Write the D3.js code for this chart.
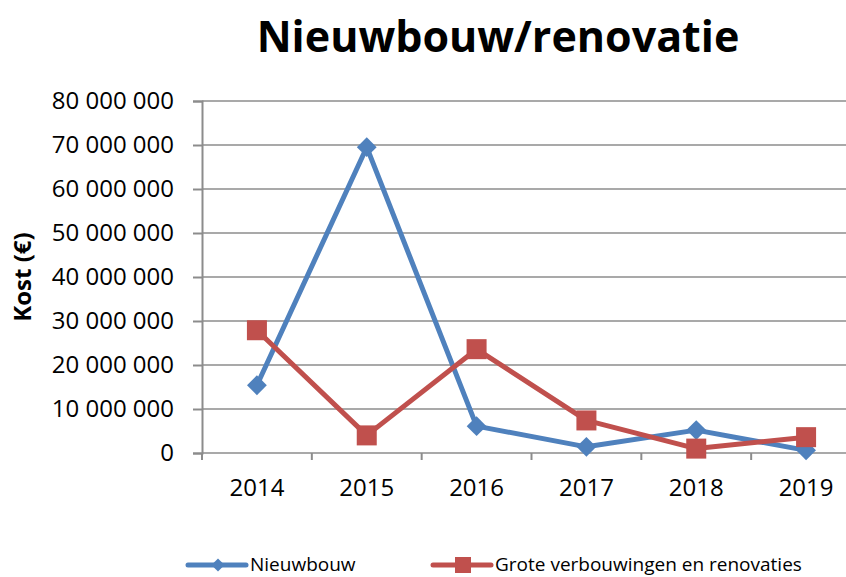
<!DOCTYPE html>
<html>
<head>
<meta charset="utf-8">
<script src="https://cdn.jsdelivr.net/npm/d3@7"></script>
<style>
  body { margin: 0; background: #fff; }
  text { font-family: "Open Sans", "Liberation Sans", sans-serif; }
</style>
</head>
<body>
<div id="chart"></div>
<script>
// Line chart: Nieuwbouw vs grote verbouwingen (kost per jaar)
const years = ["2014", "2015", "2016", "2017", "2018", "2019"];
const nieuwbouw = [15400000, 69500000, 6100000, 1400000, 5200000, 600000];
const renovaties = [27900000, 4000000, 23600000, 7400000, 1000000, 3600000];
const yTicks = [0, 10000000, 20000000, 30000000, 40000000, 50000000, 60000000, 70000000, 80000000];
const seriesNames = ["Nieuwbouw", "Grote verbouwingen en renovaties"];

function createLineChart() {
    const width = 846;
    const height = 577;
    const margin = { top: 101, left: 202, bottom: 124 };
    const plotWidth = 659;   // plot runs slightly past the right edge
    const plotHeight = height - margin.top - margin.bottom;

    const svg = d3.select("#chart")
        .append("svg")
        .attr("width", width)
        .attr("height", height);

    // title
    svg.append("text")
        .attr("x", 498)
        .attr("y", 52)
        .attr("text-anchor", "middle")
        .style("font-weight", "bold")
        .style("font-size", "43px")
        .text("Nieuwbouw/renovatie");

    const g = svg.append("g")
        .attr("transform", `translate(${margin.left},${margin.top})`);

    // scales
    const x = d3.scaleBand()
        .domain(years)
        .range([0, plotWidth]);

    const y = d3.scaleLinear()
        .domain([0, 80000000])
        .range([plotHeight, 0]);

    const fmt = v => d3.format(",")(v).replace(/,/g, " ");

    // gridlines
    g.append("g")
        .selectAll("line")
        .data(yTicks)
        .enter().append("line")
        .attr("x1", 0)
        .attr("x2", plotWidth)
        .attr("y1", d => y(d))
        .attr("y2", d => y(d))
        .attr("stroke", "#8c8c8c")
        .attr("stroke-width", 1.5);

    // Y axis
    const yAxis = g.append("g")
        .call(d3.axisLeft(y).tickValues(yTicks).tickFormat(fmt).tickSize(9).tickPadding(19));
    yAxis.select(".domain").attr("stroke", "#8c8c8c").attr("stroke-width", 2);
    yAxis.selectAll(".tick line").attr("stroke", "#8c8c8c").attr("stroke-width", 2);
    yAxis.selectAll("text")
        .style("font-family", "'Open Sans', sans-serif")
        .style("font-size", "24px")
        .attr("fill", "#000");

    // X axis
    const xAxis = g.append("g")
        .attr("transform", `translate(0,${plotHeight})`)
        .call(d3.axisBottom(x).tickSize(0).tickPadding(26));
    xAxis.select(".domain").remove();
    xAxis.selectAll("text")
        .style("font-family", "'Open Sans', sans-serif")
        .style("font-size", "24px")
        .attr("fill", "#000");

    // category tick marks between bands
    g.append("g")
        .selectAll("line")
        .data(years)
        .enter().append("line")
        .attr("x1", d => x(d))
        .attr("x2", d => x(d))
        .attr("y1", plotHeight)
        .attr("y2", plotHeight + 7)
        .attr("stroke", "#8c8c8c")
        .attr("stroke-width", 2);

    // y axis label
    svg.append("text")
        .attr("transform", "translate(31,277) rotate(-90)")
        .attr("text-anchor", "middle")
        .style("font-weight", "bold")
        .style("font-size", "24px")
        .text("Kost (€)");

    const cx = d => x(d) + x.bandwidth() / 2;
    const line = d3.line()
        .x((d, i) => cx(years[i]))
        .y(d => y(d));

    const colors = ["#4f81bd", "#c0504d"];

    // Nieuwbouw line + diamonds
    g.append("path")
        .datum(nieuwbouw)
        .attr("fill", "none")
        .attr("stroke", colors[0])
        .attr("stroke-width", 5)
        .attr("stroke-linejoin", "round")
        .attr("d", line);

    g.selectAll(".diamond")
        .data(nieuwbouw)
        .enter().append("path")
        .attr("class", "diamond")
        .attr("transform", (d, i) => `translate(${cx(years[i])},${y(d)})`)
        .attr("d", d3.symbol().type(d3.symbolDiamond2).size(250))
        .attr("fill", colors[0]);

    // renovaties line + squares
    g.append("path")
        .datum(renovaties)
        .attr("fill", "none")
        .attr("stroke", colors[1])
        .attr("stroke-width", 5)
        .attr("stroke-linejoin", "round")
        .attr("d", line);

    g.selectAll(".square")
        .data(renovaties)
        .enter().append("rect")
        .attr("class", "square")
        .attr("x", (d, i) => cx(years[i]) - 10)
        .attr("y", d => y(d) - 10)
        .attr("width", 20)
        .attr("height", 20)
        .attr("fill", colors[1]);

    // LEGEND
    const legendX = [188, 433];
    const legendY = 565;
    const legend = svg.append("g");
    seriesNames.forEach((name, i) => {
        const lx = legendX[i];
        legend.append("line")
            .attr("x1", lx).attr("x2", lx + 58)
            .attr("y1", legendY).attr("y2", legendY)
            .attr("stroke", colors[i])
            .attr("stroke-width", 5)
            .attr("stroke-linecap", "round");
        if (i === 0) {
            legend.append("path")
                .attr("transform", `translate(${lx + 30},${legendY})`)
                .attr("d", d3.symbol().type(d3.symbolDiamond2).size(110))
                .attr("fill", colors[i]);
        } else {
            legend.append("rect")
                .attr("x", lx + 22).attr("y", legendY - 8)
                .attr("width", 16).attr("height", 16)
                .attr("fill", colors[i]);
        }
        legend.append("text")
            .attr("x", lx + 62)
            .attr("y", legendY + 6)
            .style("font-size", "19px")
            .text(name);
    });
}

document.addEventListener("DOMContentLoaded", createLineChart);
</script>
</body>
</html>
